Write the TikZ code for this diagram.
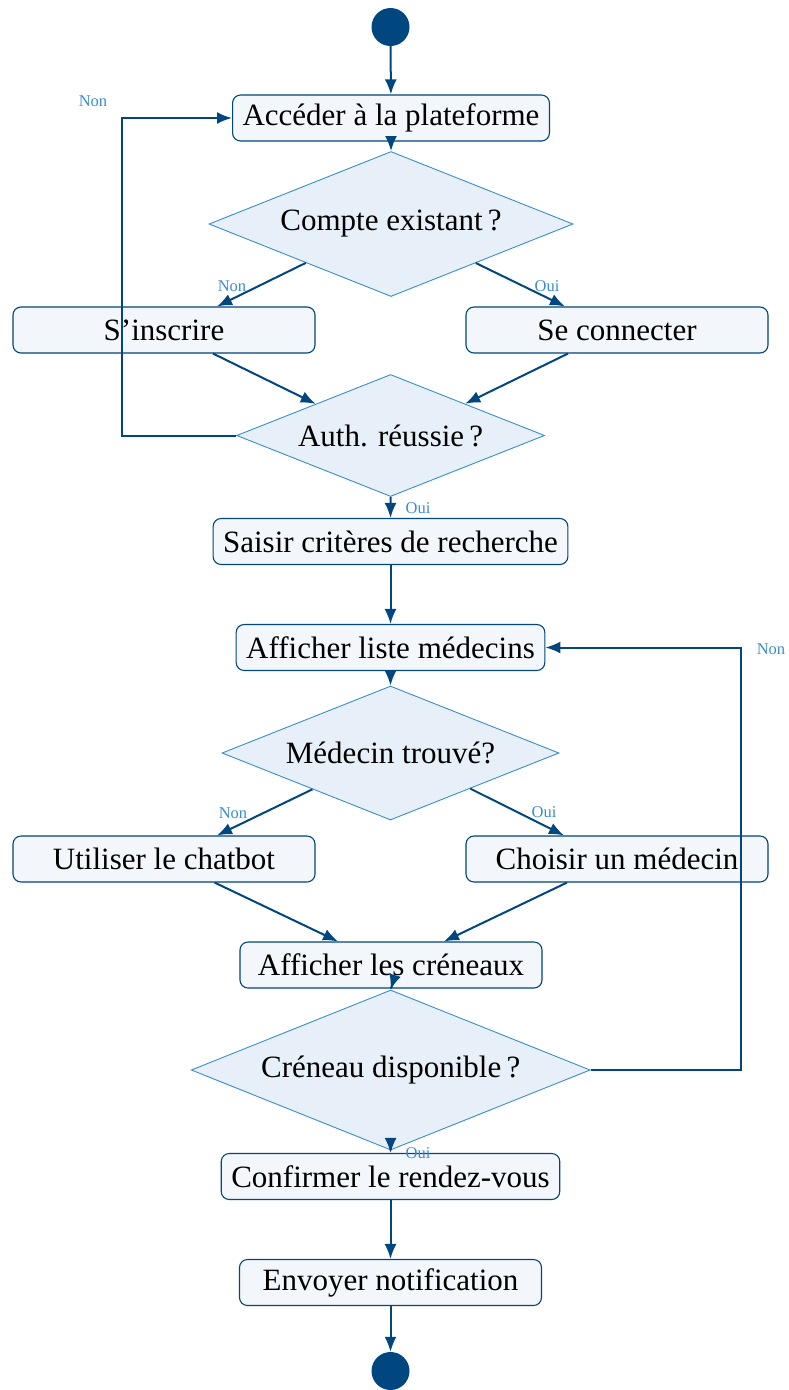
\documentclass[tikz,border=0pt]{standalone}
\usepackage{fontspec}
\setmainfont{Liberation Serif}
\usetikzlibrary{shapes.geometric,arrows.meta,calc}
\definecolor{navy}{HTML}{00467F}
\definecolor{skyline}{HTML}{3A8DCF}
\definecolor{boxfill}{HTML}{F3F7FB}
\definecolor{diafill}{HTML}{E7F0F8}
\begin{document}
\begin{tikzpicture}[x=1pt,y=-1pt,
  every node/.style={font=\fontsize{31}{36}\selectfont},
  stepbox/.style={draw=navy, line width=1.1pt, fill=boxfill, rounded corners=8pt,
    minimum width=302pt, minimum height=46pt, inner xsep=10pt, inner ysep=0pt},
  decision/.style={diamond, draw=skyline, line width=0.9pt, fill=diafill,
    aspect=2.5, inner sep=0pt},
  terminal/.style={circle, fill=navy, minimum size=38pt, inner sep=0pt},
  flow/.style={draw=navy, line width=2pt, -{Latex[length=15pt,width=12pt]}},
  tag/.style={font=\fontsize{16.5}{19}\selectfont, text=skyline, inner sep=0pt}]
\useasboundingbox (0,0) rectangle (788,1390);

% activity nodes
\node[terminal] (start) at (390.5,27) {};
\node[stepbox] (acc) at (391,118) {Accéder à la plateforme};
\node[decision, minimum width=364pt, minimum height=145pt] (compte) at (391,224) {Compte existant\,?};
\node[stepbox] (insc) at (164,330) {S’inscrire};
\node[stepbox] (conn) at (617,330) {Se connecter};
\node[decision, minimum width=308pt, minimum height=122pt] (auth) at (390.6,435.5) {Auth. réussie\,?};
\node[stepbox] (crit) at (390.5,541.5) {Saisir critères de recherche};
\node[stepbox] (liste) at (390.5,647.5) {Afficher liste médecins};
\node[decision, minimum width=337pt, minimum height=134pt] (trouve) at (390.5,753) {Médecin trouvé?};
\node[stepbox] (chat) at (164,859) {Utiliser le chatbot};
\node[stepbox] (choix) at (617,859) {Choisir un médecin};
\node[stepbox] (cren) at (391,965) {Afficher les créneaux};
\node[decision, minimum width=399pt, minimum height=160pt] (dispo) at (390.7,1070) {Créneau disponible\,?};
\node[stepbox] (conf) at (390.5,1176.5) {Confirmer le rendez-vous};
\node[stepbox] (notif) at (390.5,1282.5) {Envoyer notification};
\node[terminal] (end) at (390.5,1371) {};

% columns of the two return loops
\coordinate (loopL) at (122,0);
\coordinate (loopR) at (741,0);

% connectors
\draw[flow] (start) -- (acc);
\draw[flow] (acc) -- (compte);
\draw[flow] ($(compte.west)!0.533!(compte.south)$) -- ([xshift=53pt]insc.north);
\draw[flow] ($(compte.east)!0.535!(compte.south)$) -- ([xshift=-52pt]conn.north);
\draw[flow] ([xshift=49pt]insc.south) -- ($(auth.west)!0.515!(auth.north)$);
\draw[flow] ([xshift=-49pt]conn.south) -- ($(auth.east)!0.517!(auth.north)$);
\draw[flow] (auth.west) -- (auth.west -| loopL) |- (acc.west);
\draw[flow] (auth) -- (crit);
\draw[flow] (crit) -- (liste);
\draw[flow] (liste) -- (trouve);
\draw[flow] ($(trouve.west)!0.538!(trouve.south)$) -- ([xshift=53pt]chat.north);
\draw[flow] ($(trouve.east)!0.528!(trouve.south)$) -- ([xshift=-53pt]choix.north);
\draw[flow] ([xshift=50.6pt]chat.south) -- ([xshift=-53pt]cren.north);
\draw[flow] ([xshift=-50pt]choix.south) -- ([xshift=53pt]cren.north);
\draw[flow] (cren.south) -- (dispo.north);
\draw[flow] (dispo.east) -- (dispo.east -| loopR) |- (liste.east);
\draw[flow] (dispo) -- (conf);
\draw[flow] (conf) -- (notif);
\draw[flow] (notif) -- (end);

% branch labels
\node[tag] (nonA) at (93,101) {Non};
\node[tag] (nonB) at (232,286) {Non};
\node[tag] (ouiB) at (547,286) {Oui};
\node[tag] (ouiC) at (418,508) {Oui};
\node[tag] (nonD) at (771,649) {Non};
\node[tag] (nonE) at (233,813) {Non};
\node[tag] (ouiE) at (544,812) {Oui};
\node[tag] (ouiF) at (418,1153) {Oui};
\end{tikzpicture}
\end{document}
